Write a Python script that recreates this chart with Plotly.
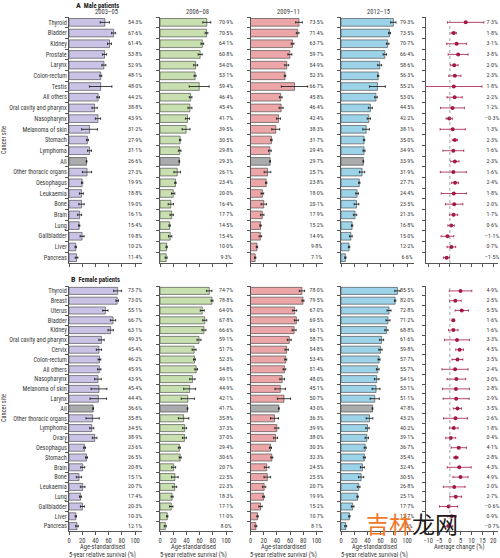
import plotly.graph_objects as go

# ---------------- data ----------------
periods = ["2003–05", "2006–08", "2009–11", "2012–15"]

male_sites = ["Thyroid", "Bladder", "Kidney", "Prostate", "Larynx", "Colon-rectum", "Testis",
              "All others", "Oral cavity and pharynx", "Nasopharynx", "Melanoma of skin", "Stomach",
              "Lymphoma", "All", "Other thoracic organs", "Oesophagus", "Leukaemia", "Bone", "Brain",
              "Lung", "Gallbladder", "Liver", "Pancreas"]
male_2003_05 = [54.3, 67.6, 61.4, 53.8, 52.9, 48.1, 48.0, 44.2, 38.8, 43.9, 31.2, 27.9, 31.1, 26.6, 27.3, 19.9, 18.8, 19.0, 16.1, 15.4, 19.8, 10.2, 11.4]
male_2006_08 = [70.9, 70.5, 64.1, 60.8, 54.0, 53.1, 59.4, 46.4, 45.4, 41.7, 39.5, 30.5, 29.8, 29.3, 26.1, 23.4, 20.0, 16.4, 17.7, 14.5, 15.4, 10.0, 9.3]
male_2009_11 = [73.5, 71.4, 63.7, 59.7, 54.9, 52.3, 66.7, 45.8, 46.4, 42.4, 38.3, 31.7, 29.4, 29.7, 25.7, 23.8, 18.0, 20.1, 17.9, 15.2, 14.9, 9.8, 7.1]
male_2012_15 = [79.3, 73.5, 70.7, 66.4, 58.6, 56.3, 55.2, 53.0, 44.5, 42.2, 38.1, 35.0, 34.9, 33.9, 31.9, 27.7, 24.4, 23.5, 21.3, 16.8, 15.0, 12.2, 6.6]
male_ci_2003_05 = [7, 3, 3, 3, 3, 1.5, 17, 2, 4, 4, 12, 1.5, 3, 0.5, 7, 1, 3, 4, 3, 1, 3, 1, 2]
male_ci_2006_08 = [6, 2, 2, 3, 3, 1.5, 15, 2, 3, 3, 6, 1, 2, 0.5, 5, 1, 2.5, 4, 2.5, 1, 2.5, 1, 1.5]
male_ci_2009_11 = [5, 2, 2, 3, 3, 1, 20, 2, 3, 3, 6, 1, 2, 0.5, 5, 1, 2, 4, 2.5, 1, 2, 1, 1]
male_ci_2012_15 = [4, 1.5, 2, 2.5, 3, 1, 12, 2, 3, 2.5, 5, 1, 1.5, 0.5, 4, 1, 2, 3.5, 2.5, 1, 2, 1, 1]
male_change = [7.3, 1.8, 3.1, 3.8, 2.0, 2.3, 1.8, 2.2, 1.2, -0.3, 1.3, 2.3, 1.6, 2.3, 1.6, 2.4, 1.8, 2.0, 1.7, 0.6, -1.1, 0.7, -1.5]
male_change_ci = [8.4, 1.2, 4.6, 4.6, 1.8, 2.8, 13, 3.5, 5.5, 1.4, 5.8, 1.2, 4.8, 1.9, 6, 1.6, 5.8, 4, 1.9, 1.5, 2.9, 2, 1.4]

female_sites = ["Thyroid", "Breast", "Uterus", "Bladder", "Kidney", "Oral cavity and pharynx", "Cervix",
                "Colon-rectum", "All others", "Nasopharynx", "Melanoma of skin", "Larynx", "All",
                "Other thoracic organs", "Lymphoma", "Ovary", "Oesophagus", "Stomach", "Brain", "Bone",
                "Leukaemia", "Lung", "Gallbladder", "Liver", "Pancreas"]
female_2003_05 = [73.7, 73.0, 55.1, 66.7, 63.1, 49.3, 45.4, 46.2, 45.9, 43.9, 45.4, 44.4, 36.6, 35.8, 34.5, 38.9, 23.6, 26.5, 20.8, 15.1, 20.7, 17.4, 20.3, 10.3, 12.1]
female_2006_08 = [74.7, 78.8, 64.0, 67.8, 66.6, 59.1, 51.7, 52.3, 54.8, 49.1, 44.9, 42.1, 41.7, 35.8, 37.3, 37.0, 29.4, 30.6, 20.7, 22.5, 22.3, 18.3, 17.1, 11.0, 8.0]
female_2009_11 = [78.0, 79.5, 67.0, 69.5, 66.1, 58.7, 54.8, 53.4, 51.4, 48.0, 45.1, 50.7, 43.0, 36.3, 39.9, 38.0, 30.3, 32.3, 24.5, 25.5, 20.7, 19.9, 15.2, 10.7, 8.1]
female_2012_15 = [85.5, 82.0, 72.8, 71.2, 68.8, 61.6, 59.8, 57.7, 55.7, 54.1, 53.1, 51.1, 47.8, 43.2, 40.2, 39.1, 36.7, 35.4, 32.4, 30.5, 26.8, 25.1, 17.7, 12.7, 7.2]
female_ci_2003_05 = [6, 2, 4, 4, 4, 4, 4, 2, 2.5, 5, 12, 12.5, 0.5, 10, 3, 3.5, 1.5, 1.5, 3, 4, 3.5, 1.5, 3, 1, 2]
female_ci_2006_08 = [4, 1.5, 3, 3, 3, 3, 3, 1.5, 2, 4, 9, 10, 0.5, 8, 3, 3, 1.5, 1.5, 3, 5, 3, 1.5, 2.5, 1, 1.5]
female_ci_2009_11 = [4, 1.5, 3, 3, 3, 3, 2.5, 1.5, 2, 3.5, 8, 10, 0.5, 6, 3, 3, 1.5, 1.5, 3.5, 5, 2.5, 1.5, 2.5, 1, 1.5]
female_ci_2012_15 = [4, 1, 3, 3, 2.5, 3, 2.5, 1.5, 2, 3.5, 6, 7, 0.5, 5, 2.5, 2.5, 1.5, 1.5, 3, 4, 2, 1, 2, 1, 1.5]
female_change = [4.9, 2.5, 5.5, 1.6, 1.6, 3.3, 4.5, 3.5, 2.4, 3.0, 2.8, 2.9, 3.5, 2.6, 1.8, 0.4, 4.1, 2.8, 4.3, 4.9, 2.0, 2.7, -0.6, 0.9, -0.7]
female_change_ci = [5.2, 2.7, 3.1, 0.5, 2.2, 5.8, 1.8, 2.5, 6, 4.3, 6.2, 6, 1.9, 5.5, 2, 2.3, 3.5, 1, 5.5, 3.5, 5, 2.7, 4.2, 2, 2]

survival_ticks = [0, 20, 40, 60, 80, 100]
change_ticks = [-10, -5, 0, 5, 10, 15, 20]

# ---------------- style ----------------
W, H = 500, 558
FONT = "Liberation Sans Narrow, Roboto Condensed, DejaVu Sans Condensed, Liberation Sans, Arial"
TXT = "#3a3a3a"
period_colors = ["#cbc3e5", "#c8e0b0", "#eca6a8", "#9dd3e8"]
ALL_GRAY = "#a9abad"
CHANGE_COL = "#a3184b"
AX = "#555555"

def px_x(p):
    return p / W

def px_y(p):
    return 1 - p / H

bar_left_px = [69, 160, 250.5, 341]
bar_scale = 0.66  # px per unit
bar_range = [0, 110]
chg_left_px = 426
chg_range = [-11, 22]
chg_scale = 2.17

rows = [
    dict(sites=male_sites, vals=[male_2003_05, male_2006_08, male_2009_11, male_2012_15],
         cis=[male_ci_2003_05, male_ci_2006_08, male_ci_2009_11, male_ci_2012_15],
         chg=male_change, chg_ci=male_change_ci, top=17, bottom=263, bottom_labels=False),
    dict(sites=female_sites, vals=[female_2003_05, female_2006_08, female_2009_11, female_2012_15],
         cis=[female_ci_2003_05, female_ci_2006_08, female_ci_2009_11, female_ci_2012_15],
         chg=female_change, chg_ci=female_change_ci, top=286, bottom=531, bottom_labels=True),
]

def fmt(v):
    s = f"{v:.1f}%".replace(".", "·")
    return s.replace("-", "−")

fig = go.Figure()
layout = dict(width=W, height=H, autosize=False, margin=dict(l=0, r=0, t=0, b=0, pad=0), showlegend=False,
              paper_bgcolor="white", plot_bgcolor="white", bargap=0.28,
              font=dict(family=FONT, size=6.5, color=TXT))
annotations = []
shapes = []

ax_i = 0
for r, row in enumerate(rows):
    sites = row["sites"]
    n = len(sites)
    ydom = [px_y(row["bottom"]), px_y(row["top"])]
    for c in range(5):
        ax_i += 1
        xa = f"x{ax_i}"
        ya = f"y{ax_i}"
        xkey = "xaxis" if ax_i == 1 else f"xaxis{ax_i}"
        ykey = "yaxis" if ax_i == 1 else f"yaxis{ax_i}"
        if c < 4:
            left = bar_left_px[c]
            xdom = [px_x(left), px_x(left + (bar_range[1] - bar_range[0]) * bar_scale)]
            xr = bar_range
            tv = survival_ticks
            colors = [ALL_GRAY if s == "All" else period_colors[c] for s in sites]
            fig.add_trace(go.Bar(
                x=row["vals"][c], y=sites, orientation="h", xaxis=xa, yaxis=ya,
                marker=dict(color=colors, line=dict(color="#3c3c3c", width=0.6)),
                error_x=dict(type="data", array=row["cis"][c], color="#111111", thickness=0.8, width=1.2),
                hoverinfo="skip"))
            fig.add_trace(go.Scatter(
                x=[100] * n, y=sites, mode="text", xaxis=xa, yaxis=ya,
                text=[fmt(v) for v in row["vals"][c]],
                textfont=dict(size=6, color=TXT, family=FONT), textposition="middle center",
                cliponaxis=False, hoverinfo="skip"))
            if r == 0:
                annotations.append(dict(x=57, y=px_y(12), xref=xa, yref="paper", text=periods[c],
                                        showarrow=False, font=dict(size=6.5, color=TXT),
                                        xanchor="center", yanchor="middle"))
            if row["bottom_labels"]:
                annotations.append(dict(x=50, y=px_y(541), xref=xa, yref="paper",
                                        text="Age-standardised<br>5-year relative survival (%)",
                                        showarrow=False, font=dict(size=6.5, color=TXT),
                                        xanchor="center", yanchor="top"))
        else:
            left = chg_left_px
            xdom = [px_x(left), px_x(left + (chg_range[1] - chg_range[0]) * chg_scale)]
            xr = chg_range
            tv = change_ticks
            fig.add_trace(go.Scatter(
                x=row["chg"], y=sites, mode="markers", xaxis=xa, yaxis=ya,
                marker=dict(color=CHANGE_COL, size=4),
                error_x=dict(type="data", array=row["chg_ci"], color=CHANGE_COL, thickness=0.8, width=1.2),
                hoverinfo="skip"))
            fig.add_trace(go.Scatter(
                x=[19.5] * n, y=sites, mode="text", xaxis=xa, yaxis=ya,
                text=[fmt(v) for v in row["chg"]],
                textfont=dict(size=6, color=TXT, family=FONT), textposition="middle center",
                cliponaxis=False, hoverinfo="skip"))
            shapes.append(dict(type="line", xref=xa, yref=f"{ya} domain", x0=0, x1=0, y0=0, y1=1,
                               line=dict(color="#8a8a8a", width=0.8, dash="dot")))
            if row["bottom_labels"]:
                annotations.append(dict(x=4, y=px_y(541), xref=xa, yref="paper",
                                        text="Average change (%)",
                                        showarrow=False, font=dict(size=6.5, color=TXT),
                                        xanchor="center", yanchor="top"))
        layout[xkey] = dict(domain=xdom, range=xr, anchor=ya, showline=True, linecolor=AX, linewidth=0.8,
                            ticks="outside", ticklen=3, tickwidth=0.7, tickcolor=AX,
                            tickmode="array", tickvals=tv,
                            ticktext=[str(t).replace("-", "−") for t in tv],
                            showticklabels=row["bottom_labels"], showgrid=False, zeroline=False,
                            automargin=False,
                            tickfont=dict(size=6.5, color=TXT), fixedrange=True)
        layout[ykey] = dict(domain=ydom, anchor=xa, type="category", categoryorder="array",
                            categoryarray=sites, range=[n - 0.5, -0.5], showline=True, linecolor=AX,
                            linewidth=0.8, ticks="outside", ticklen=3, tickwidth=0.7, tickcolor=AX,
                            tickson="boundaries", tickmode="linear", tick0=0, dtick=1,
                            showticklabels=(c == 0), showgrid=False, zeroline=False,
                            automargin=False,
                            tickfont=dict(size=6.3, color=TXT), fixedrange=True)

# panel titles
annotations.append(dict(x=px_x(74), y=px_y(6), xref="paper", yref="paper", xanchor="left", yanchor="middle",
                        text="<b><span style='font-size:8px'>A</span>  Male patients</b>", showarrow=False,
                        font=dict(size=6.5, color="#222")))
annotations.append(dict(x=px_x(69), y=px_y(279), xref="paper", yref="paper", xanchor="left", yanchor="middle",
                        text="<b><span style='font-size:8px'>B</span>  Female patients</b>", showarrow=False,
                        font=dict(size=6.5, color="#222")))
# y titles
for yc in [140, 408]:
    annotations.append(dict(x=px_x(4), y=px_y(yc), xref="paper", yref="paper", text="Cancer site",
                            textangle=-90, showarrow=False, font=dict(size=6.3, color=TXT),
                            xanchor="center", yanchor="middle"))
# watermark present on the picture
annotations.append(dict(x=px_x(364), y=px_y(523), xref="paper", yref="paper", xanchor="left", yanchor="middle",
                        text="<span style='color:#f07a2a'>吉林</span><span style='color:#1a1a1a'>龙网</span>",
                        showarrow=False, font=dict(size=23, family="Noto Sans CJK SC")))

layout["annotations"] = annotations
layout["shapes"] = shapes
fig.update_layout(**layout)
fig.write_html("out.html", config={"responsive": False, "displayModeBar": False},
               post_script="document.body.style.margin='0';document.body.style.padding='0';")
